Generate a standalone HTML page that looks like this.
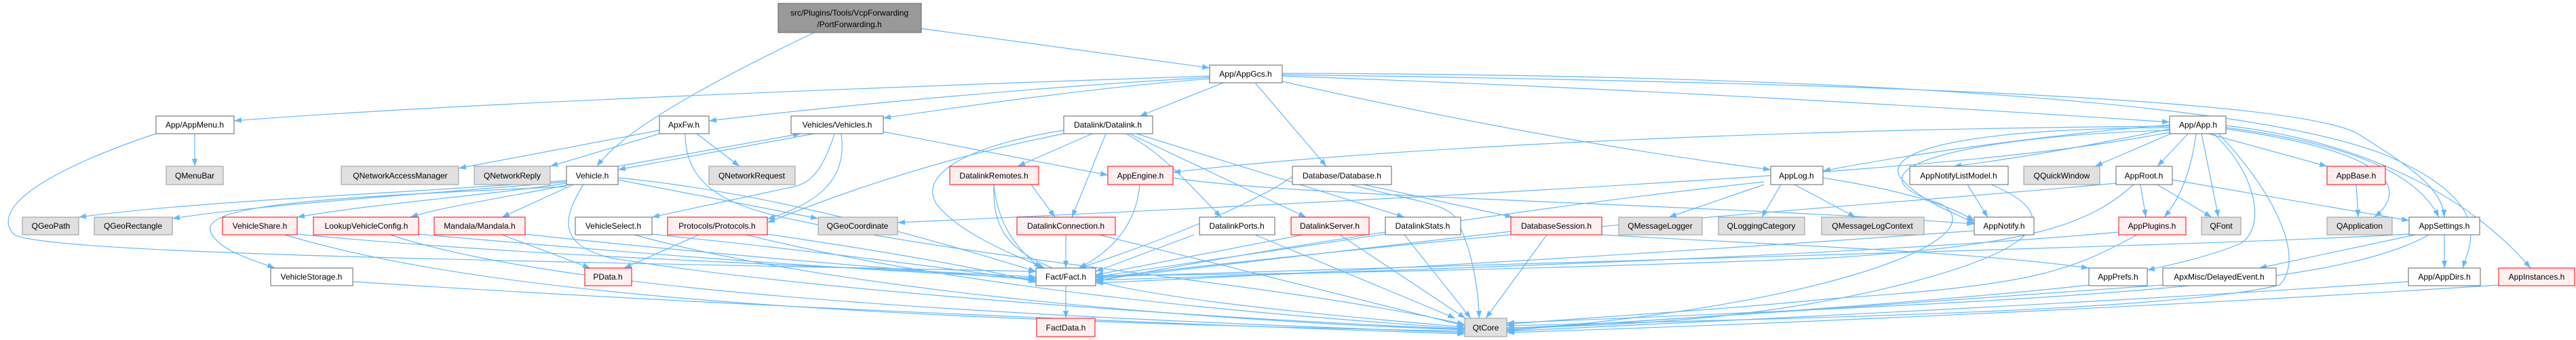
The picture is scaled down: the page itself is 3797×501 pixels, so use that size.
<!DOCTYPE html>
<html><head><meta charset="utf-8"><style>
html,body{margin:0;padding:0;background:#fff;}
svg{display:block;}
text{font-family:"Liberation Sans",Arial,sans-serif;font-size:12px;text-anchor:middle;fill:#000;}
.e{fill:none;stroke:#63b8ff;stroke-width:1.2;}
.n{fill:#fff;stroke:#666;stroke-width:1;}
.g{fill:#e0e0e0;stroke:#999;stroke-width:1;}
.r{fill:#fff0f0;stroke:#ff0000;stroke-width:1;}
</style></head><body>
<svg width="3797" height="501" viewBox="0 0 3797 501" xmlns="http://www.w3.org/2000/svg">
<defs><marker id="a" markerWidth="11" markerHeight="8" refX="11" refY="4" orient="auto" markerUnits="userSpaceOnUse"><path d="M0,0L11,4L0,8z" fill="#63b8ff"/></marker></defs>
<g marker-end="url(#a)">
<!-- root -->
<path class="e" d="M1200,48 C1050,120 920,190 880,245"/>
<path class="e" d="M1358,42 L1783,100"/>
<!-- AppGcs -->
<path class="e" d="M1783,112 C1400,125 700,150 345,178"/>
<path class="e" d="M1783,114 C1500,130 1200,160 1045,178"/>
<path class="e" d="M1783,116 C1600,130 1400,160 1302,174"/>
<path class="e" d="M1803,122 L1680,171"/>
<path class="e" d="M1850,122 L1955,245"/>
<path class="e" d="M1890,120 C2200,190 2450,230 2610,250"/>
<path class="e" d="M1890,112 C2400,130 2900,160 3198,180"/>
<path class="e" d="M1890,110 C2600,120 3400,140 3480,200 C3560,250 3600,280 3603,320"/>
<path class="e" d="M1890,108 C2600,110 3300,140 3520,230 C3680,300 3640,360 3630,395"/>
<!-- AppMenu -->
<path class="e" d="M287,197 L287,245"/>
<path class="e" d="M230,197 C100,240 -20,300 20,345 C60,375 800,385 1527,400"/>
<!-- ApxFw -->
<path class="e" d="M972,192 L676,248"/>
<path class="e" d="M972,197 L811,245"/>
<path class="e" d="M1027,197 L1090,245"/>
<path class="e" d="M1010,197 C1010,290 1100,310 1200,330 C1500,390 1900,420 2159,478"/>
<!-- Vehicles / Vehicle -->
<path class="e" d="M1200,197 L911,250"/>
<path class="e" d="M911,245 L1180,197"/>
<path class="e" d="M1230,197 C1210,260 1190,270 1170,275 L961,320"/>
<path class="e" d="M1240,197 C1250,270 1200,300 1131,323"/>
<path class="e" d="M1302,194 L1633,258"/>
<path class="e" d="M835,266 C600,285 300,295 116,320"/>
<path class="e" d="M835,268 C600,288 400,300 254,322"/>
<path class="e" d="M835,270 C700,290 550,300 438,320"/>
<path class="e" d="M840,272 C750,290 650,305 605,320"/>
<path class="e" d="M845,272 L740,320"/>
<path class="e" d="M835,275 C500,290 300,300 310,340 C320,370 380,385 405,395"/>
<path class="e" d="M911,265 L1206,322"/>
<path class="e" d="M911,262 C1100,280 1300,330 1527,400"/>
<path class="e" d="M860,272 C830,320 820,360 900,380 C1200,430 1800,470 2159,485"/>
<!-- row3 left -> Fact/QtCore -->
<path class="e" d="M438,345 C800,380 1200,390 1527,408"/>
<path class="e" d="M420,346 C700,430 1200,470 2159,488"/>
<path class="e" d="M617,345 C900,370 1200,395 1527,410"/>
<path class="e" d="M575,346 C800,420 1300,460 2159,490"/>
<path class="e" d="M740,346 L870,395"/>
<path class="e" d="M774,345 C1000,370 1300,395 1527,412"/>
<path class="e" d="M520,415 C900,440 1500,470 2159,492"/>
<path class="e" d="M961,345 C1200,370 1400,395 1527,414"/>
<path class="e" d="M935,346 C1200,420 1700,470 2159,486"/>
<path class="e" d="M1030,346 L920,395"/>
<path class="e" d="M1131,345 C1300,370 1450,395 1527,416"/>
<path class="e" d="M1100,346 C1400,420 1800,460 2159,484"/>
<!-- Datalink -->
<path class="e" d="M1610,197 L1500,245"/>
<path class="e" d="M1630,197 L1580,320"/>
<path class="e" d="M1660,197 C1720,230 1760,280 1800,320"/>
<path class="e" d="M1665,197 L1925,320"/>
<path class="e" d="M1675,197 L2070,320"/>
<path class="e" d="M1568,192 C1450,210 1350,250 1380,300 C1410,340 1480,370 1540,395"/>
<path class="e" d="M1568,197 C1400,230 1250,280 1131,328"/>
<path class="e" d="M1520,272 L1555,320"/>
<path class="e" d="M1465,272 C1470,330 1500,370 1535,395"/>
<path class="e" d="M1465,272 C1460,400 1550,430 2159,482"/>
<path class="e" d="M1571,346 L1571,395"/>
<path class="e" d="M1620,346 C1800,390 2000,440 2159,480"/>
<path class="e" d="M1680,272 C1675,330 1640,370 1590,395"/>
<path class="e" d="M1729,262 C1900,290 2500,300 2910,330"/>
<path class="e" d="M1905,260 C1850,300 1700,360 1590,395"/>
<path class="e" d="M2010,272 L2230,320"/>
<path class="e" d="M1990,272 C2100,300 2140,300 2150,330 C2170,370 2180,430 2180,469"/>
<path class="e" d="M1760,346 L1615,400"/>
<path class="e" d="M1850,346 L2145,469"/>
<path class="e" d="M1920,346 L1615,405"/>
<path class="e" d="M1975,346 L2160,469"/>
<path class="e" d="M2042,345 L1615,408"/>
<path class="e" d="M2070,346 L2168,469"/>
<path class="e" d="M2227,341 L1615,412"/>
<path class="e" d="M2280,346 L2190,469"/>
<path class="e" d="M2361,346 C2600,360 2900,370 3079,395"/>
<!-- AppLog -->
<path class="e" d="M2600,272 L2460,320"/>
<path class="e" d="M2625,272 L2597,320"/>
<path class="e" d="M2645,272 L2735,320"/>
<path class="e" d="M2687,262 C2800,280 2870,300 2910,325"/>
<path class="e" d="M2600,268 C2300,300 1900,360 1615,415"/>
<path class="e" d="M2900,272 L2930,320"/>
<path class="e" d="M2935,272 C3050,320 3000,370 2800,420 C2600,470 2400,480 2221,483"/>
<path class="e" d="M2910,340 C2500,370 2000,400 1615,417"/>
<!-- App.h -->
<path class="e" d="M3198,184 C3000,200 2800,230 2687,252"/>
<path class="e" d="M3198,190 C3100,210 3000,230 2880,245"/>
<path class="e" d="M3200,197 L3088,245"/>
<path class="e" d="M3225,197 L3180,245"/>
<path class="e" d="M3237,197 C3230,250 3215,290 3190,320"/>
<path class="e" d="M3245,197 L3270,320"/>
<path class="e" d="M3255,197 L3430,245"/>
<path class="e" d="M3281,190 C3500,220 3560,270 3500,320"/>
<path class="e" d="M3281,188 C3450,210 3560,250 3595,320"/>
<path class="e" d="M3281,185 C3500,210 3650,300 3730,395"/>
<path class="e" d="M3263,197 C3330,260 3340,340 3300,360 C3250,380 3200,390 3165,398"/>
<path class="e" d="M3270,197 C3350,280 3400,380 3360,420 C3200,460 2600,470 2221,480"/>
<path class="e" d="M3198,186 C2600,190 2000,220 1729,254"/>
<path class="e" d="M3198,188 C2900,190 2780,220 2800,260 C2830,300 2900,320 2910,330"/>
<path class="e" d="M3200,195 C3000,230 2800,260 1323,328"/>
<path class="e" d="M3198,192 C2900,200 2700,250 2860,300 C2950,350 2700,450 2221,487"/>
<!-- AppRoot -->
<path class="e" d="M3155,272 L3163,320"/>
<path class="e" d="M3180,272 L3260,320"/>
<path class="e" d="M3202,265 L3551,325"/>
<path class="e" d="M3119,270 C2800,300 2300,330 1615,410"/>
<path class="e" d="M3145,272 C3080,330 3000,360 2700,380 C2200,400 1800,405 1615,406"/>
<path class="e" d="M3473,272 L3476,320"/>
<path class="e" d="M3123,342 C2700,380 2000,400 1615,413"/>
<path class="e" d="M3150,346 C3050,400 3000,420 2700,440 C2500,460 2300,470 2221,478"/>
<!-- AppSettings -->
<path class="e" d="M3603,346 L3603,395"/>
<path class="e" d="M3560,346 L3330,395"/>
<path class="e" d="M3551,345 C3300,360 2500,380 1615,408"/>
<path class="e" d="M3580,346 C3450,420 3100,440 2221,476"/>
<path class="e" d="M3079,420 C2900,440 2500,470 2221,484"/>
<path class="e" d="M3188,420 C2900,440 2500,470 2221,486"/>
<path class="e" d="M3550,415 C3200,440 2600,470 2221,488"/>
<path class="e" d="M3683,420 C3300,445 2700,475 2221,490"/>
<!-- Fact -->
<path class="e" d="M1571,421 L1571,469"/>
</g>
<!-- nodes -->
<rect x="1147" y="5" width="211" height="43" fill="#999" stroke="#666"/>
<text x="1252" y="23">src/Plugins/Tools/VcpForwarding</text><text x="1252" y="40">/PortForwarding.h</text>
<rect class="n" x="1783" y="96" width="107" height="26"/><text x="1836" y="113">App/AppGcs.h</text>
<rect class="n" x="230" y="171" width="115" height="26"/><text x="287" y="188">App/AppMenu.h</text>
<rect class="n" x="972" y="171" width="73" height="26"/><text x="1008" y="188">ApxFw.h</text>
<rect class="n" x="1166" y="171" width="136" height="26"/><text x="1234" y="188">Vehicles/Vehicles.h</text>
<rect class="n" x="1568" y="171" width="131" height="26"/><text x="1633" y="188">Datalink/Datalink.h</text>
<rect class="n" x="3198" y="171" width="83" height="26"/><text x="3240" y="188">App/App.h</text>
<rect class="g" x="245" y="245" width="84" height="27"/><text x="287" y="263">QMenuBar</text>
<rect class="g" x="503" y="245" width="173" height="27"/><text x="590" y="263">QNetworkAccessManager</text>
<rect class="g" x="699" y="245" width="112" height="27"/><text x="755" y="263">QNetworkReply</text>
<rect class="n" x="835" y="245" width="76" height="27"/><text x="873" y="263">Vehicle.h</text>
<rect class="g" x="1045" y="245" width="127" height="27"/><text x="1108" y="263">QNetworkRequest</text>
<rect class="r" x="1400" y="245" width="131" height="27"/><text x="1465" y="263">DatalinkRemotes.h</text>
<rect class="r" x="1633" y="245" width="96" height="27"/><text x="1681" y="263">AppEngine.h</text>
<rect class="n" x="1905" y="245" width="146" height="27"/><text x="1978" y="263">Database/Database.h</text>
<rect class="n" x="2610" y="245" width="77" height="27"/><text x="2648" y="263">AppLog.h</text>
<rect class="n" x="2815" y="245" width="145" height="27"/><text x="2887" y="263">AppNotifyListModel.h</text>
<rect class="g" x="2983" y="245" width="112" height="27"/><text x="3039" y="263">QQuickWindow</text>
<rect class="n" x="3119" y="245" width="83" height="27"/><text x="3160" y="263">AppRoot.h</text>
<rect class="r" x="3430" y="245" width="86" height="27"/><text x="3473" y="263">AppBase.h</text>
<rect class="g" x="33" y="320" width="83" height="26"/><text x="75" y="337">QGeoPath</text>
<rect class="g" x="139" y="320" width="115" height="26"/><text x="196" y="337">QGeoRectangle</text>
<rect class="r" x="328" y="320" width="110" height="26"/><text x="383" y="337">VehicleShare.h</text>
<rect class="r" x="462" y="320" width="155" height="26"/><text x="540" y="337">LookupVehicleConfig.h</text>
<rect class="r" x="640" y="320" width="134" height="26"/><text x="707" y="337">Mandala/Mandala.h</text>
<rect class="n" x="848" y="320" width="113" height="26"/><text x="904" y="337">VehicleSelect.h</text>
<rect class="r" x="984" y="320" width="147" height="26"/><text x="1057" y="337">Protocols/Protocols.h</text>
<rect class="g" x="1206" y="320" width="117" height="26"/><text x="1264" y="337">QGeoCoordinate</text>
<rect class="r" x="1499" y="320" width="145" height="26"/><text x="1571" y="337">DatalinkConnection.h</text>
<rect class="n" x="1768" y="320" width="111" height="26"/><text x="1823" y="337">DatalinkPorts.h</text>
<rect class="r" x="1903" y="320" width="115" height="26"/><text x="1960" y="337">DatalinkServer.h</text>
<rect class="n" x="2042" y="320" width="111" height="26"/><text x="2097" y="337">DatalinkStats.h</text>
<rect class="r" x="2227" y="320" width="134" height="26"/><text x="2294" y="337">DatabaseSession.h</text>
<rect class="g" x="2386" y="320" width="123" height="26"/><text x="2447" y="337">QMessageLogger</text>
<rect class="g" x="2533" y="320" width="127" height="26"/><text x="2596" y="337">QLoggingCategory</text>
<rect class="g" x="2685" y="320" width="151" height="26"/><text x="2760" y="337">QMessageLogContext</text>
<rect class="n" x="2910" y="320" width="88" height="26"/><text x="2954" y="337">AppNotify.h</text>
<rect class="r" x="3123" y="320" width="99" height="26"/><text x="3172" y="337">AppPlugins.h</text>
<rect class="g" x="3245" y="320" width="58" height="26"/><text x="3274" y="337">QFont</text>
<rect class="g" x="3430" y="320" width="96" height="26"/><text x="3478" y="337">QApplication</text>
<rect class="n" x="3551" y="320" width="104" height="26"/><text x="3603" y="337">AppSettings.h</text>
<rect class="n" x="399" y="395" width="121" height="26"/><text x="459" y="412">VehicleStorage.h</text>
<rect class="r" x="862" y="395" width="69" height="26"/><text x="896" y="412">PData.h</text>
<rect class="n" x="1527" y="395" width="88" height="26"/><text x="1571" y="412">Fact/Fact.h</text>
<rect class="n" x="3079" y="395" width="86" height="26"/><text x="3122" y="412">AppPrefs.h</text>
<rect class="n" x="3188" y="395" width="167" height="26"/><text x="3271" y="412">ApxMisc/DelayedEvent.h</text>
<rect class="n" x="3550" y="395" width="106" height="26"/><text x="3603" y="412">App/AppDirs.h</text>
<rect class="r" x="3683" y="395" width="112" height="26"/><text x="3739" y="412">AppInstances.h</text>
<rect class="r" x="1528" y="469" width="86" height="27"/><text x="1571" y="487">FactData.h</text>
<rect class="g" x="2159" y="469" width="62" height="27"/><text x="2190" y="487">QtCore</text>
</svg>
</body></html>
